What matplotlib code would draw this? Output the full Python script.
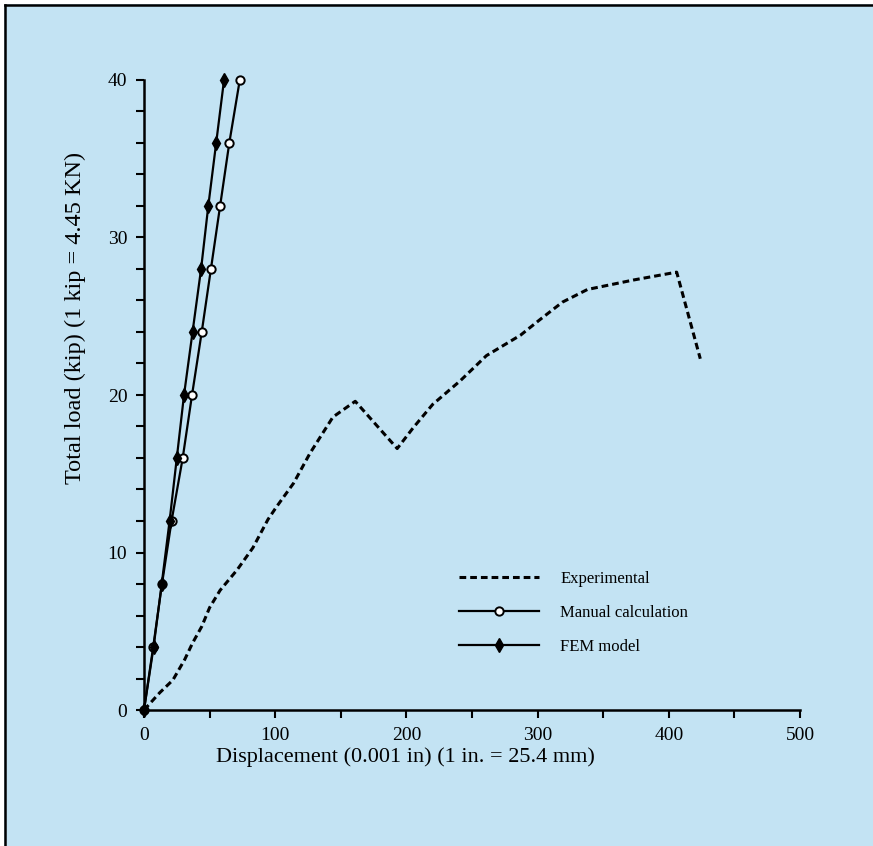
import matplotlib.pyplot as plt
from matplotlib.lines import Line2D
from matplotlib.patches import Rectangle
from matplotlib.ticker import MultipleLocator

# data
load = [0, 4, 8, 12, 16, 20, 24, 28, 32, 36, 40]
disp_manual = [0, 7, 13.7, 21, 29.5, 36.6, 44, 51, 58, 65, 73]
disp_fem = [0, 7.3, 13.5, 19.5, 25, 30.5, 37, 43.5, 49, 55, 61]

disp_exp = [0, 12, 22, 31, 37, 44, 50, 58, 71, 83, 94.5, 101, 114, 126.5,
            144, 161, 193, 205, 220, 241, 261, 271, 287, 302, 319, 338,
            373, 406, 424]
load_exp = [0, 1.1, 1.9, 3.2, 4.25, 5.3, 6.5, 7.6, 8.9, 10.3, 12.1, 12.9,
            14.4, 16.3, 18.6, 19.6, 16.6, 17.9, 19.4, 20.9, 22.5, 23.0,
            23.8, 24.8, 25.9, 26.7, 27.3, 27.8, 22.3]

bg = '#c3e3f3'
plt.rcParams['font.family'] = ['Liberation Serif', 'DejaVu Serif']

fig = plt.figure(figsize=(8.73, 8.46), dpi=100)
fig.patch.set_facecolor(bg)
ax = fig.add_axes([144 / 873, 1 - 710 / 846, 656 / 873, 630 / 846])
ax.set_facecolor(bg)

ax.plot(disp_exp, load_exp, color='black', lw=2.2, ls=(0, (2.2, 1.3)),
        label='Experimental')
ax.plot(disp_manual, load, color='black', lw=1.6, marker='o', ms=6,
        mfc='white', mec='black', mew=1.4, clip_on=False, zorder=3,
        label='Manual calculation')
ax.plot(disp_fem, load, color='black', lw=1.6, marker='d', ms=7,
        mfc='black', mec='black', clip_on=False, zorder=4,
        label='FEM model')

ax.set_xlim(0, 500)
ax.set_ylim(0, 40)
ax.xaxis.set_major_locator(MultipleLocator(100))
ax.xaxis.set_minor_locator(MultipleLocator(50))
ax.yaxis.set_major_locator(MultipleLocator(10))
ax.yaxis.set_minor_locator(MultipleLocator(2))
ax.tick_params(which='both', direction='out', width=1.5, length=6,
               labelsize=14, pad=6)

for s in ['top', 'right']:
    ax.spines[s].set_visible(False)
for s in ['left', 'bottom']:
    ax.spines[s].set_linewidth(1.8)

ax.set_xlabel('Displacement (0.001 in) (1 in. = 25.4 mm)', fontsize=16)
ax.xaxis.set_label_coords((405 - 144) / 656, (710 - 747) / 630)
ax.set_ylabel('Total load (kip) (1 kip = 4.45 KN)', fontsize=17.5)
ax.yaxis.set_label_coords((86 - 144) / 656, (710 - 318) / 630)

ax.legend(loc='upper left', bbox_to_anchor=(0.457, 0.245), frameon=False,
          fontsize=12, handlelength=4.8, handletextpad=1.3,
          labelspacing=1.1)

# scanned page frame (white margin, left and top edge)
fig.add_artist(Rectangle((0, 0), 4 / 873, 1, transform=fig.transFigure,
                         color='white', lw=0))
fig.add_artist(Rectangle((0, 1 - 4 / 846), 1, 4 / 846,
                         transform=fig.transFigure, color='white', lw=0))
fig.add_artist(Line2D([5 / 873, 5 / 873], [0, 1 - 5 / 846],
                      color='black', lw=1.8))
fig.add_artist(Line2D([5 / 873, 1], [1 - 5 / 846, 1 - 5 / 846],
                      color='black', lw=1.8))

fig.savefig('out.png', dpi=100, facecolor=bg)
